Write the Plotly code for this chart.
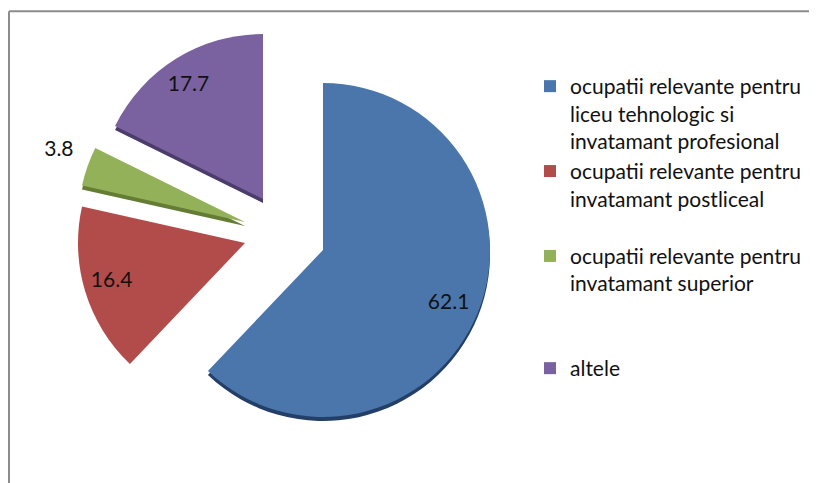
import plotly.graph_objects as go

# ---- data ----
labels = [
    "ocupatii relevante pentru<br>liceu tehnologic si<br>invatamant profesional",
    "ocupatii relevante pentru<br>invatamant postliceal<br> ",
    "ocupatii relevante pentru<br>invatamant superior<br> <br> ",
    "altele",
]
values = [62.1, 16.4, 3.8, 17.7]

# ---- styles / layout ----
colors = ["#4A76AB", "#B14C4A", "#93B158", "#7A62A0"]
side_colors = ["#233F68", None, "#647C33", "#4C3C6B"]
vertex_x = [323, 245, 245, 263]      # exploded slice vertices (px, as seen on page)
vertex_y = [250, 243, 222, 199]
radius = [167, 167, 167, 165]
text_pos = ["inside", "inside", "outside", "inside"]
text_shift_x = [0, -4, 8, -4]        # small label nudges (px)
text_shift_y = [0, -4, -12, -3]
side_offset = 4
PAGE = 8                             # browser body margin
TRANSP = "rgba(0,0,0,0)"
FONT = "Lato"

W, H = 817, 483
total = sum(values)


def dom(cx, cy, r):
    cx -= PAGE
    cy -= PAGE
    return dict(x=[(cx - r) / W, (cx + r) / W],
                y=[1 - (cy + r) / H, 1 - (cy - r) / H])


fig = go.Figure()

# legend carrier (practically invisible pie)
fig.add_trace(go.Pie(
    labels=labels, values=values, sort=False, direction="clockwise",
    marker=dict(colors=colors, line=dict(width=0)),
    textinfo="none", hoverinfo="skip", showlegend=True,
    domain=dict(x=[0.40, 0.40005], y=[0.5, 0.5001]),
))

starts = []
acc = 0.0
for v in values:
    starts.append(360.0 * acc / total)
    acc += v


def slice_trace(i, color, cx, cy, r, hole=0.0, text=False, pos="inside"):
    v = values[i]
    return go.Pie(
        labels=[labels[i], "rest"], values=[v, total - v],
        sort=False, direction="clockwise", rotation=starts[i],
        hole=hole,
        marker=dict(colors=[color, TRANSP], line=dict(width=0)),
        text=[f"{v:g}", ""] if text else None,
        textinfo="text" if text else "none",
        textposition=[pos, "none"] if text else None,
        insidetextorientation="horizontal",
        textfont=dict(family=FONT, size=21, color="#111111"),
        showlegend=False, hoverinfo="skip",
        domain=dom(cx, cy, r),
    )


# 3D side (darker, shifted down)
for i in range(len(values)):
    if side_colors[i]:
        fig.add_trace(slice_trace(i, side_colors[i], vertex_x[i],
                                  vertex_y[i] + side_offset, radius[i]))
# faces
for i in range(len(values)):
    fig.add_trace(slice_trace(i, colors[i], vertex_x[i], vertex_y[i], radius[i]))
# value labels
for i in range(len(values)):
    tx = vertex_x[i] + text_shift_x[i]
    ty = vertex_y[i] + text_shift_y[i]
    if text_pos[i] == "inside":
        fig.add_trace(slice_trace(i, TRANSP, tx, ty, radius[i],
                                  hole=0.62, text=True, pos="inside"))
    else:
        fig.add_trace(slice_trace(i, TRANSP, tx, ty, radius[i] * 1.1,
                                  text=True, pos="outside"))

fig.update_layout(
    width=W, height=H,
    margin=dict(l=0, r=0, t=0, b=0, autoexpand=False),
    paper_bgcolor="white",
    plot_bgcolor="white",
    font=dict(family=FONT, size=21, color="#111111"),
    legend=dict(
        x=522 / W, y=1 - 58 / H, xanchor="left", yanchor="top",
        valign="top", itemwidth=30,
        font=dict(family=FONT, size=21, color="#111111"),
        bgcolor="rgba(0,0,0,0)",
    ),
    shapes=[
        dict(type="line", xref="paper", yref="paper",
             x0=1 / W, x1=1, y0=1 - 3.3 / H, y1=1 - 3.3 / H,
             line=dict(color="#8C8C8C", width=2)),
        dict(type="line", xref="paper", yref="paper",
             x0=1 / W, x1=1 / W, y0=0, y1=1 - 3.3 / H,
             line=dict(color="#8C8C8C", width=2)),
    ],
)

fig.write_html("out.html")
